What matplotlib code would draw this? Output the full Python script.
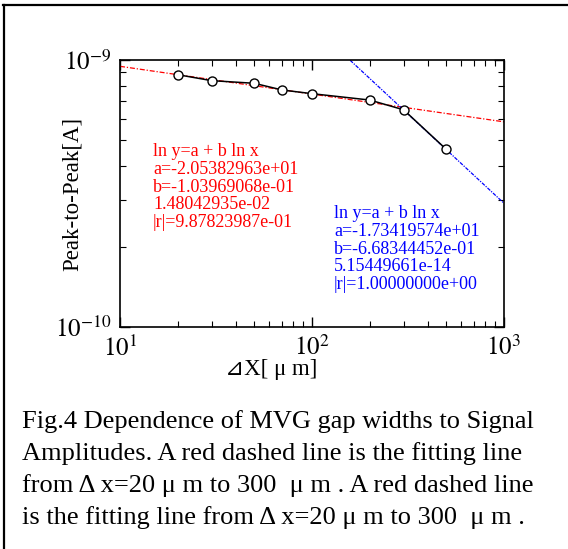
import numpy as np
import matplotlib
matplotlib.use('Agg')
import matplotlib.pyplot as plt
from matplotlib.lines import Line2D
from matplotlib.ticker import LogLocator, NullFormatter

plt.rcParams['font.family'] = ['Liberation Serif', 'DejaVu Sans']
plt.rcParams['mathtext.fontset'] = 'stix'

# measured gap widths [um] and peak-to-peak amplitude [A]
gap = [20, 30, 50, 70, 100, 200, 300, 500]
p2p = [8.81e-10, 8.37e-10, 8.18e-10, 7.72e-10, 7.48e-10, 7.08e-10, 6.51e-10, 4.63e-10]

# fit coefficients, ln y = a + b ln x
red_a, red_b, red_s, red_r = -2.05382963e+01, -1.03969068e-01, 1.48042935e-02, 9.87823987e-01
blue_a, blue_b, blue_s, blue_r = -1.73419574e+01, -6.68344452e-01, 5.15449661e-14, 1.00000000e+00

x_range = np.array([10.0, 1000.0])

fig = plt.figure(figsize=(5.68, 5.49), dpi=100)
ax = fig.add_axes([0.2113, 0.4044, 0.676, 0.4863])

ax.plot(x_range, np.exp(red_a + red_b * np.log(x_range)), color='red',
        lw=0.9, ls=(0, (4, 1.5, 1, 1.5)), zorder=2)
ax.plot(x_range, np.exp(blue_a + blue_b * np.log(x_range)), color='blue',
        lw=0.9, ls=(0, (3, 1, 1, 1)), zorder=2)
ax.plot(gap, p2p, color='black', lw=1.1, marker='o', ms=6.5,
        mfc='white', mec='black', mew=1.0, zorder=3)

ax.set_xscale('log')
ax.set_yscale('log')
ax.set_xlim(10, 1000)
ax.set_ylim(1e-10, 1e-9)
ax.set_xticks([10, 100, 1000])
ax.set_xticklabels([r'$10^{1}$', r'$10^{2}$', r'$10^{3}$'])
ax.set_yticks([1e-10, 1e-9])
ax.set_yticklabels([r'$10^{-10}$', r'$10^{-9}$'])
ax.xaxis.set_minor_locator(LogLocator(base=10, subs=np.arange(2, 10)))
ax.yaxis.set_minor_locator(LogLocator(base=10, subs=np.arange(2, 10)))
ax.xaxis.set_minor_formatter(NullFormatter())
ax.yaxis.set_minor_formatter(NullFormatter())
ax.tick_params(which='both', direction='in', top=True, right=True, labelsize=18)
ax.tick_params(which='major', length=7, width=1.0)
ax.tick_params(which='minor', length=4, width=0.8)
ax.tick_params(axis='x', pad=6)
ax.tick_params(axis='y', pad=6)
for s in ax.spines.values():
    s.set_linewidth(1.2)

ax.text(0.086, 0.688,
        'ln y=a + b ln x\na=%.8e\nb=%.8e\n%.8e\n|r|=%.8e' % (red_a, red_b, red_s, red_r),
        transform=ax.transAxes, color='red', fontsize=13, va='top', ha='left',
        linespacing=1.05)
ax.text(0.557, 0.456,
        'ln y=a + b ln x\na=%.8e\nb=%.8e\n%.8e\n|r|=%.8e' % (blue_a, blue_b, blue_s, blue_r),
        transform=ax.transAxes, color='blue', fontsize=13, va='top', ha='left',
        linespacing=1.05)

fig.text(72 / 568, 1 - 194 / 549, 'Peak-to-Peak[A]', rotation=90,
         ha='center', va='center', fontsize=16.5)
fig.text(271 / 568, 1 - 370 / 549, '⊿X[ μ m]', ha='center', va='center', fontsize=16.5)

caption = ['Fig.4 Dependence of MVG gap widths to Signal',
           'Amplitudes. A red dashed line is the fitting line',
           'from Δ x=20 μ m to 300  μ m . A red dashed line',
           'is the fitting line from Δ x=20 μ m to 300  μ m .']
for i, line in enumerate(caption):
    fig.text(22 / 568, 1 - (422 + 32 * i) / 549, line, ha='left', va='center', fontsize=19)

# frame around the figure (top and left edges only)
fig.add_artist(Line2D([3 / 568, 1], [1 - 4.5 / 549, 1 - 4.5 / 549],
                      transform=fig.transFigure, color='black', lw=1.6))
fig.add_artist(Line2D([4 / 568, 4 / 568], [0, 1 - 4.5 / 549],
                      transform=fig.transFigure, color='black', lw=1.6))

fig.savefig('out.png', dpi=100)
